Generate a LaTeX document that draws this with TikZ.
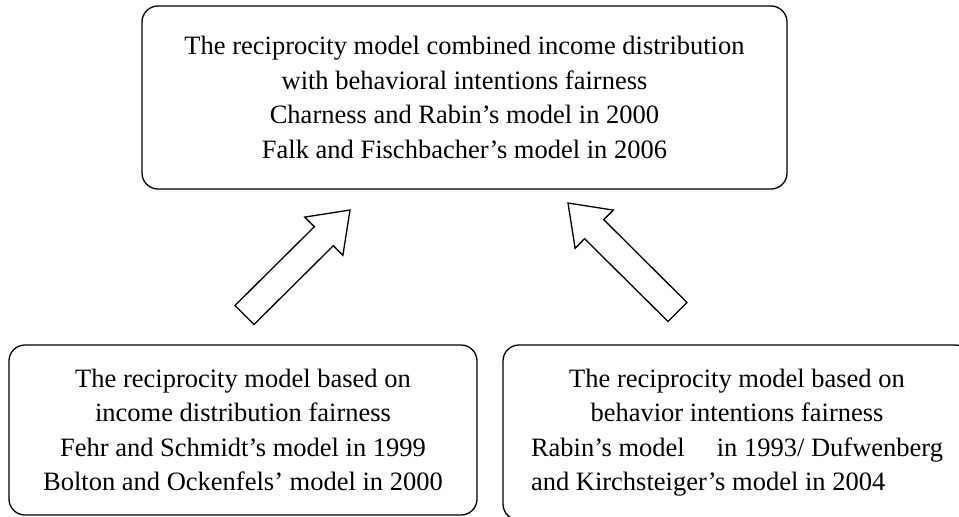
\documentclass[tikz,border=0pt]{standalone}
\usepackage{fontspec}
\setmainfont{Liberation Serif}
\begin{document}
\begin{tikzpicture}[x=1pt,y=-1pt,
  box/.style={draw, line width=1.3pt, rounded corners=16pt, align=center, inner sep=0pt,
              font=\fontsize{26.5}{34.5}\selectfont},
  blockarrow/.style={draw, line width=1.3pt, line join=miter, fill=white}]
\useasboundingbox (0,0) rectangle (959,517);
\clip (0,0) rectangle (959,517);
\node[box, minimum width=645pt, minimum height=183pt] (top) at (464.5,97.5)
  {The reciprocity model combined income distribution\\with behavioral intentions fairness\\Charness and Rabin’s model in 2000\\Falk and Fischbacher’s model in 2006};
\node[box, minimum width=468pt, minimum height=170pt] (left) at (243,430)
  {The reciprocity model based on\\income distribution fairness\\Fehr and Schmidt’s model in 1999\\Bolton and Ockenfels’ model in 2000};
\node[box, minimum width=468pt, minimum height=175pt] (right) at (737,432.5)
  {The reciprocity model based on\\behavior intentions fairness\\\makebox[412pt][s]{Rabin’s model\hfill in 1993/ Dufwenberg}\\\makebox[412pt][l]{and Kirchsteiger’s model in 2004}};
\draw[blockarrow] (350,210) -- (342.9,255.3) -- (333.3,245.7) -- (254,324.5) -- (235,305.5) -- (314.3,226.7) -- (304.7,217.1) -- cycle;
\draw[blockarrow] (568,203) -- (613.3,210.1) -- (603.7,219.6) -- (687,302.5) -- (668,321.5) -- (584.6,238.7) -- (575.1,248.3) -- cycle;
\end{tikzpicture}
\end{document}
